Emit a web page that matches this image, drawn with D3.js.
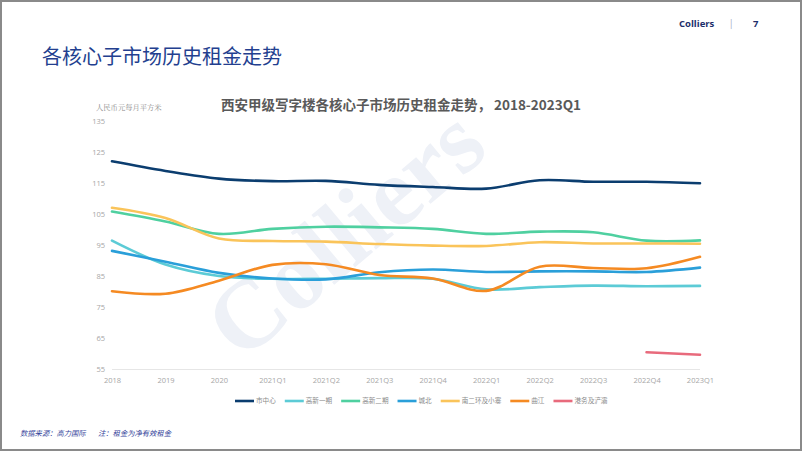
<!DOCTYPE html>
<html><head><meta charset="utf-8">
<script src="https://cdn.jsdelivr.net/npm/d3@7"></script>
<style>
html,body{margin:0;padding:0;background:#fff;}
svg{display:block;font-family:"Noto Sans CJK SC","Noto Sans",sans-serif;}
</style></head>
<body>
<svg id="c" width="802" height="451"></svg>
<script>
const categories = ["2018","2019","2020","2021Q1","2021Q2","2021Q3","2021Q4","2022Q1","2022Q2","2022Q3","2022Q4","2023Q1"];
const seriesNames = ["市中心","高新一期","高新二期","城北","南二环及小寨","曲江","港务及浐灞"];
const seriesColors = ["#0b3d6f","#5ccbd6","#4fd0a0","#2a9fd9","#fac45a","#f58a22","#e86a7c"];
const cityCenter = [122.0,118.9,116.4,115.6,115.7,114.4,113.7,113.2,115.9,115.4,115.4,114.9];
const hitech1    = [96.4,88.7,85.0,84.1,84.1,84.3,84.1,80.7,81.4,81.9,81.7,81.8];
const hitech2    = [105.8,102.6,98.6,100.2,100.9,100.7,100.2,98.6,99.3,99.1,96.4,96.5];
const chengbei   = [93.1,89.6,86.0,84.2,83.9,86.2,87.1,86.3,86.5,86.5,86.3,87.7];
const nanerhuan  = [107.0,103.7,97.1,96.3,96.1,95.3,94.8,94.7,95.9,95.5,95.5,95.4];
const qujiang    = [80.1,79.3,83.5,88.6,88.8,85.3,84.2,80.2,88.0,87.6,87.5,91.2];
const gangwu     = [null,null,null,null,null,null,null,null,null,null,60.4,59.6];
const yTicks = [55,65,75,85,95,105,115,125,135];

const seriesValues = [cityCenter,hitech1,hitech2,chengbei,nanerhuan,qujiang,gangwu];

const svg = d3.select("#c");
const SERIF = "'Liberation Serif','DejaVu Serif',serif";
const LATIN = "'Open Sans','Noto Sans',sans-serif";

// frame
svg.append("rect").attr("x",1).attr("y",1).attr("width",800).attr("height",449)
  .attr("fill","#fff").attr("stroke","#8a8a8a").attr("stroke-width",2);

// header
svg.append("text").attr("x",679).attr("y",27).attr("font-size",9.5).attr("font-weight",700)
  .style("font-family",LATIN).attr("fill","#1d2f6b").text("Colliers");
svg.append("text").attr("x",730).attr("y",27).attr("font-size",9).attr("fill","#9aa3bd").text("|");
svg.append("text").attr("x",753).attr("y",27).attr("font-size",9.5).attr("font-weight",700)
  .style("font-family",LATIN).attr("fill","#1d2f6b").text("7");

// page title
svg.append("text").attr("x",42).attr("y",64).attr("font-size",20).attr("fill","#233f8f")
  .text("各核心子市场历史租金走势");

// chart title
svg.append("text").attr("x",401).attr("y",110).attr("text-anchor","middle").attr("font-size",13.5)
  .attr("font-weight",700).attr("fill","#595959")
  .text("西安甲级写字楼各核心子市场历史租金走势， 2018-2023Q1");

// unit label
svg.append("text").attr("x",96).attr("y",110).attr("font-size",7.3).attr("fill","#8c8c8c")
  .style("font-family","'Noto Serif CJK SC','Liberation Serif','Noto Sans CJK SC',serif")
  .text("人民币元每月平方米");

// watermark
svg.append("text").attr("transform","translate(366,258) rotate(-40)")
  .attr("text-anchor","middle").attr("font-size",98).attr("font-weight",700)
  .style("font-family",SERIF)
  .attr("fill","#eef1f7").text("Colliers");

const x = d3.scalePoint().domain(categories).range([112,700]);
const y = d3.scaleLinear().domain([55,135]).range([369,121]);

// y axis labels
const yAxis = d3.axisLeft(y).tickValues(yTicks).tickSize(0).tickPadding(0);
const gy = svg.append("g").attr("transform","translate(105,0)").call(yAxis);
gy.select(".domain").remove();
gy.selectAll("text").attr("font-size",7.5).attr("fill","#a6a6a6")
  .style("font-family",LATIN);

// x axis
const xAxis = d3.axisBottom(x).tickSize(0).tickPadding(9);
const gx = svg.append("g").attr("transform","translate(0,369)").call(xAxis);
gx.select(".domain").attr("stroke","#e6e6e6").attr("stroke-width",1.2)
  .attr("d","M112,0.5H700");
gx.selectAll("text").attr("font-size",7.5).attr("fill","#a6a6a6")
  .style("font-family",LATIN);

// lines
const line = d3.line()
  .defined(d => d != null)
  .x((d,i) => x(categories[i]))
  .y(d => y(d))
  .curve(d3.curveCatmullRom.alpha(0.5));

seriesValues.forEach((vals,k) => {
  svg.append("path").datum(vals)
    .attr("fill","none").attr("stroke",seriesColors[k]).attr("stroke-width",2.6)
    .attr("stroke-linejoin","round").attr("stroke-linecap","round")
    .attr("d", line);
});

// legend
const lg = svg.append("g");
let lx = 235;
const ly = 401;
seriesNames.forEach((n,k) => {
  lg.append("line").attr("x1",lx).attr("x2",lx+19).attr("y1",ly).attr("y2",ly)
    .attr("stroke",seriesColors[k]).attr("stroke-width",2.6);
  const t = lg.append("text").attr("x",lx+21).attr("y",ly+2.4).attr("font-size",6.6)
    .attr("fill","#8c8c8c").text(n);
  const w = t.node().getComputedTextLength();
  lx += 21 + w + 9;
});

// footer
svg.append("text").attr("x",20).attr("y",436).attr("font-size",7.3).attr("font-style","italic")
  .attr("fill","#34449a").text("数据来源：高力国际");
svg.append("text").attr("x",98).attr("y",436).attr("font-size",7.3).attr("font-style","italic")
  .attr("fill","#34449a").text("注：租金为净有效租金");
</script>
</body></html>
